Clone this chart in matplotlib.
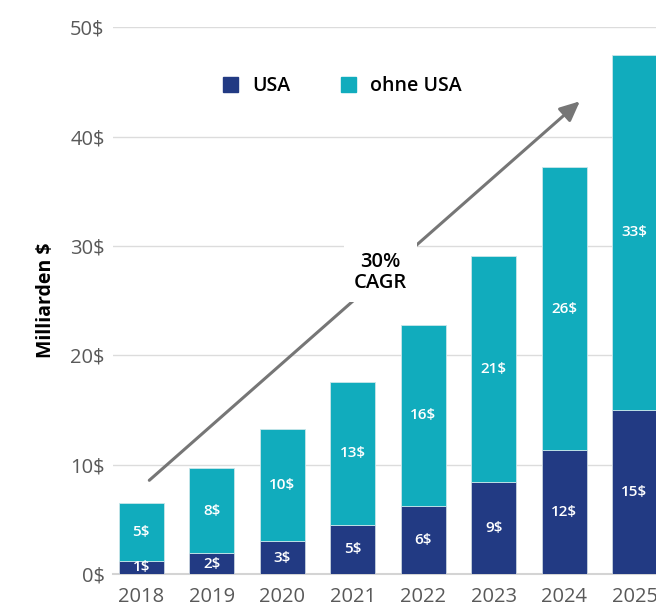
import numpy as np
import matplotlib.pyplot as plt
from matplotlib.patches import Patch

plt.rcParams['font.family'] = ['Open Sans', 'DejaVu Sans']

years = ["2018", "2019", "2020", "2021", "2022", "2023", "2024", "2025"]
usa = [1.2, 1.9, 3.0, 4.5, 6.2, 8.4, 11.3, 15.0]          # bar heights
ohne_usa = [5.3, 7.8, 10.25, 13.1, 16.6, 20.7, 25.9, 32.5]
usa_labels = ["1$", "2$", "3$", "5$", "6$", "9$", "12$", "15$"]
ohne_labels = ["5$", "8$", "10$", "13$", "16$", "21$", "26$", "33$"]
yticks = [0, 10, 20, 30, 40, 50]

c_usa = "#223a83"
c_ohne = "#11acbd"

fig = plt.figure(figsize=(6.56, 6.10), dpi=100)
ax = fig.add_axes([113/656, 36/610, 1 - 113/656, (574 - 27.3)/610])

x = np.arange(len(years))
b1 = ax.bar(x, usa, width=0.64, color=c_usa, edgecolor="#c9d3df", linewidth=0.6, zorder=3)
b2 = ax.bar(x, ohne_usa, width=0.64, bottom=usa, color=c_ohne, edgecolor="#c9e6ea", linewidth=0.6, zorder=3)
ax.bar_label(b1, labels=usa_labels, label_type="center", color="white", fontsize=11, fontweight="semibold")
ax.bar_label(b2, labels=ohne_labels, label_type="center", color="white", fontsize=11, fontweight="semibold")

ax.set_xlim(-0.4, 7.3)
ax.set_ylim(0, 50)
ax.set_xticks(x)
ax.set_xticklabels(years)
ax.set_yticks(yticks)
ax.set_yticklabels([f"{v}$" for v in yticks])
ax.tick_params(length=0, labelsize=14.5, labelcolor="#595959")
ax.tick_params(axis="x", pad=9)
ax.tick_params(axis="y", pad=6)
ax.grid(axis="y", color="#dcdcdc", linewidth=1, zorder=0)
for s in ["top", "right", "left"]:
    ax.spines[s].set_visible(False)
ax.spines["bottom"].set_color("#d4d4d4")
ax.spines["bottom"].set_linewidth(1.5)
ax.set_ylabel("Milliarden $", fontsize=14, fontweight="bold", labelpad=10)

# CAGR arrow
ax.annotate("", xy=(6.25, 43.4), xytext=(0.085, 8.4),
            arrowprops=dict(arrowstyle="-|>,head_length=1.2,head_width=0.55", color="#767676", lw=2.2), zorder=4)
ax.text(3.39, 27.6, "30%\nCAGR", ha="center", va="center", fontsize=14.5, fontweight="semibold",
        linespacing=1.05, zorder=5, bbox=dict(facecolor="white", edgecolor="none", pad=7))

handles = [Patch(color=c_usa, label="USA"), Patch(color=c_ohne, label="ohne USA")]
leg = fig.legend(handles=handles, loc="center", bbox_to_anchor=(342/656, 1 - 86/610), ncol=2, frameon=False,
                 handlelength=0.8, handleheight=0.8, handletextpad=0.7, columnspacing=2.6,
                 prop={"size": 14, "weight": "semibold"})

fig.savefig("out.png", dpi=100)
